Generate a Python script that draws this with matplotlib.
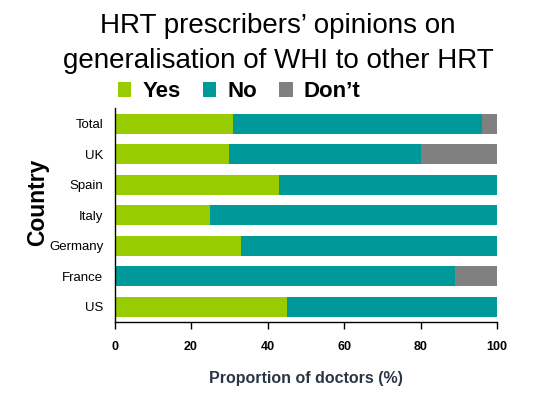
import matplotlib.pyplot as plt
import numpy as np

plt.rcParams['font.family'] = ['Liberation Sans', 'DejaVu Sans']

countries = ["US", "France", "Germany", "Italy", "Spain", "UK", "Total"]
yes = [45, 0, 33, 25, 43, 30, 31]
no = [55, 89, 67, 75, 57, 50, 65]
dont = [0, 11, 0, 0, 0, 20, 4]

col_yes = "#99cc00"
col_no = "#009999"
col_dont = "#808080"

fig = plt.figure(figsize=(5.56, 4.17), dpi=100)
ax = fig.add_axes([0.206, 0.228, 0.688, 0.513])

y = np.arange(len(countries))
h = 0.66
yes_a = np.array(yes)
no_a = np.array(no)
dont_a = np.array(dont)
ax.barh(y, yes_a, height=h, color=col_yes, label="Yes")
ax.barh(y, no_a, left=yes_a, height=h, color=col_no, label="No")
ax.barh(y, dont_a, left=yes_a + no_a, height=h, color=col_dont, label="Don\u2019t")

ax.set_xlim(0, 100)
ax.set_ylim(-0.5, 6.52)
ax.set_xticks([0, 20, 40, 60, 80, 100])
ax.set_yticks(y)
ax.set_yticklabels(countries, fontsize=9.5)
ax.tick_params(axis="y", length=0, pad=8)
ax.tick_params(axis="x", direction="out", length=5, width=1, pad=9, labelsize=9)
for lbl in ax.get_xticklabels():
    lbl.set_fontweight("bold")
for s in ["top", "right"]:
    ax.spines[s].set_visible(False)
ax.spines["left"].set_linewidth(1)
ax.spines["bottom"].set_linewidth(1)

ax.set_xlabel("Proportion of doctors (%)", fontsize=11.5, fontweight="bold",
              color="#2b3645", labelpad=13)
fig.text(0.068, 0.515, "Country", rotation=90, fontsize=16.5, fontweight="bold",
         ha="center", va="center")

fig.text(0.5, 0.921, "HRT prescribers\u2019 opinions on", fontsize=20,
         ha="center", va="baseline")
fig.text(0.5, 0.837, "generalisation of WHI to other HRT", fontsize=20,
         ha="center", va="baseline")

leg = fig.legend(loc="center left", bbox_to_anchor=(0.196, 0.78), ncol=3,
                 frameon=False, prop={"weight": "bold", "size": 16},
                 handlelength=0.6, handleheight=0.7, handletextpad=0.5,
                 columnspacing=1.0, borderaxespad=0)

fig.savefig("out.png", dpi=100)
